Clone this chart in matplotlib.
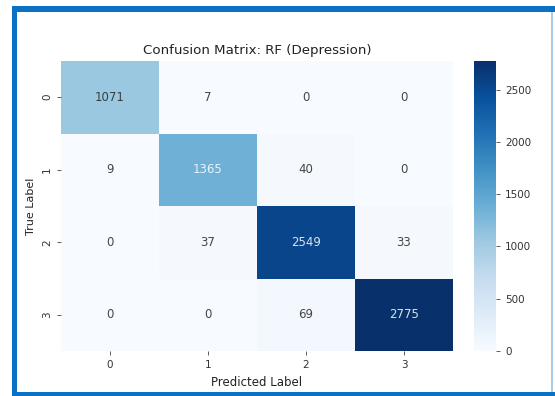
import numpy as np
import matplotlib.pyplot as plt
import seaborn as sns
from matplotlib.patches import Rectangle

# Confusion matrix counts for the RF depression model
class_labels = ["0", "1", "2", "3"]
row0 = [1071, 7, 0, 0]
row1 = [9, 1365, 40, 0]
row2 = [0, 37, 2549, 33]
row3 = [0, 0, 69, 2775]
cm = np.array([row0, row1, row2, row3])

W, H = 555, 396
fig = plt.figure(figsize=(W / 100, H / 100), dpi=100)
ax = fig.add_axes([61 / W, 1 - 351 / H, 392 / W, 290 / H])
cax = fig.add_axes([474 / W, 1 - 351 / H, 22 / W, 290 / H])

sns.heatmap(cm, annot=True, fmt="d", cmap="Blues", ax=ax, cbar_ax=cax,
            xticklabels=class_labels, yticklabels=class_labels,
            annot_kws={"fontsize": 8.5, "alpha": 0.85})
ax.set_title("Confusion Matrix: RF (Depression)", fontsize=9.6, pad=5,
             color="#222222")
ax.set_xlabel("Predicted Label", fontsize=8.5, color="#222222")
ax.set_ylabel("True Label", fontsize=8, color="#222222")
ax.tick_params(labelsize=7.5, length=3, width=0.6, color="#444444",
               labelcolor="#333333")
cax.tick_params(labelsize=7.5, length=3, width=0.6, color="#444444",
                labelcolor="#333333")
cax.yaxis.set_ticks([0, 500, 1000, 1500, 2000, 2500])


def band(x0, y0, x1, y1, color):
    # rectangle given in pixel coords, y measured from the top
    fig.patches.append(Rectangle((x0 / W, 1 - y1 / H), (x1 - x0) / W,
                                 (y1 - y0) / H, transform=fig.transFigure,
                                 color=color, linewidth=0))


# blue frame around the figure
frame = "#0b71c5"
band(12, 6, 555, 12, frame)
band(12, 6, 17, 396, frame)
band(12, 392, 555, 396, frame)
band(551, 12, 553, 392, "#a6cdec")

fig.savefig("out.png", dpi=100)
